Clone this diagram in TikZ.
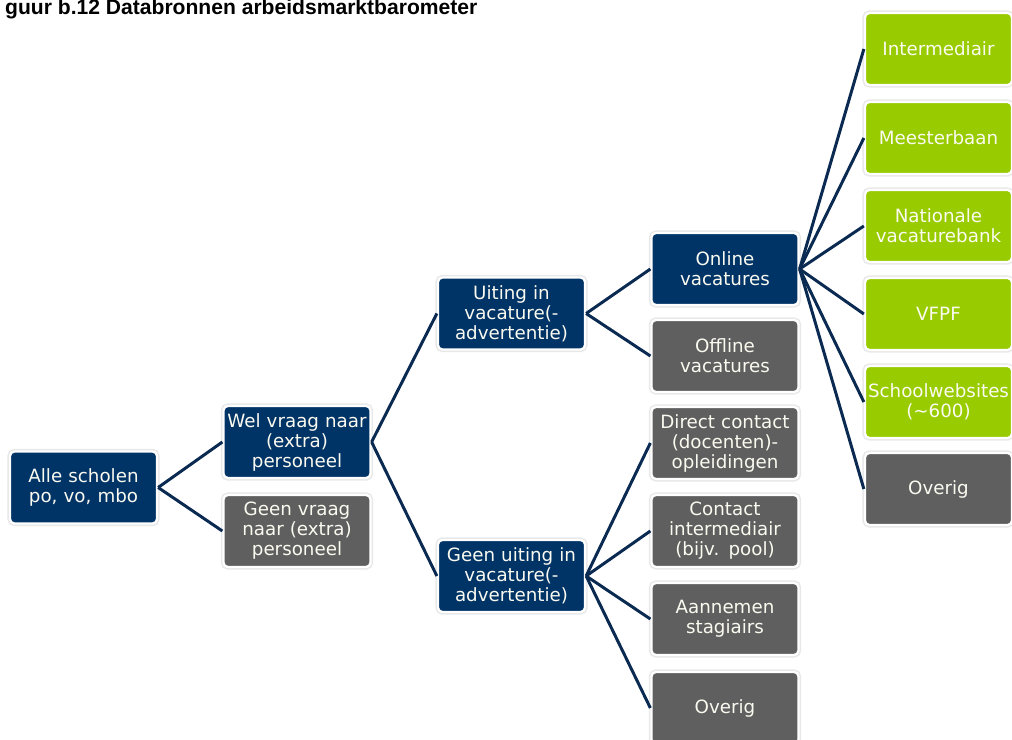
\documentclass[tikz,border=0pt]{standalone}
\usepackage{fontspec}
\setmainfont{DejaVu Sans}
\newfontfamily\titlefont{Liberation Sans}
\usepackage{xcolor}
\definecolor{barnavy}{RGB}{0,51,102}
\definecolor{bargrey}{RGB}{95,95,95}
\definecolor{bargreen}{RGB}{153,204,0}
\definecolor{barline}{RGB}{10,42,82}
\definecolor{bartext}{RGB}{250,250,240}

\begin{document}
\begin{tikzpicture}[x=0.02cm,y=-0.02cm]
  \tikzset{
    box/.style={rectangle,rounded corners=2.5pt,draw=white,line width=1.3pt,
      preaction={draw=black!9,line width=3pt},
      minimum width=2.94cm,minimum height=1.44cm,text width=2.86cm,inner xsep=0.04cm,
      align=center,text=bartext,font=\fontsize{10.4}{11.4}\selectfont},
    navybox/.style={box,fill=barnavy},
    greybox/.style={box,fill=bargrey},
    greenbox/.style={box,fill=bargreen},
    link/.style={barline,line width=1.7pt}
  }
  \useasboundingbox (0,0) rectangle (1012,740);
  \node[anchor=base west,font=\titlefont\fontsize{12}{14}\selectfont\bfseries] (title) at (-1,15) {guur b.12 Databronnen arbeidsmarktbarometer};

  % level 1 and 2
  \node[navybox] (alle) at (83.5,487.5) {Alle scholen\\po, vo, mbo};
  \node[navybox] (wel) at (297,442) {Wel vraag naar\\(extra)\\personeel};
  \node[greybox] (geen) at (297,531) {Geen vraag\\naar (extra)\\personeel};

  % level 3
  \node[navybox] (uiting) at (511.5,313.5) {Uiting in\\vacature(-\\advertentie)};
  \node[navybox] (geenuiting) at (511.5,576) {Geen uiting in\\vacature(-\\advertentie)};

  % level 4
  \node[navybox] (online) at (725,269) {Online\\vacatures};
  \node[greybox] (offline) at (725,356) {Offline\\vacatures};
  \node[greybox] (direct) at (725,443) {Direct contact\\(docenten)-\\opleidingen};
  \node[greybox] (contact) at (725,531) {Contact\\intermediair\\(bijv. pool)};
  \node[greybox] (stagiairs) at (725,619) {Aannemen\\stagiairs};
  \node[greybox] (overigb) at (725,708) {Overig};

  % level 5
  \node[greenbox] (intermediair) at (938.5,49) {Intermediair};
  \node[greenbox] (meesterbaan) at (938.5,138) {Meesterbaan};
  \node[greenbox] (nationale) at (938.5,226) {Nationale\\vacaturebank};
  \node[greenbox] (vfpf) at (938.5,314) {VFPF};
  \node[greenbox] (school) at (938.5,402) {Schoolwebsites\\(\textasciitilde600)};
  \node[greybox] (overigr) at (938.5,489) {Overig};

  % connectors
  \foreach \a/\b in {alle/wel,alle/geen,wel/uiting,wel/geenuiting,uiting/online,uiting/offline,
      geenuiting/direct,geenuiting/contact,geenuiting/stagiairs,geenuiting/overigb,
      online/intermediair,online/meesterbaan,online/nationale,online/vfpf,online/school,online/overigr}
    \draw[link] (\a.east) -- (\b.west);
\end{tikzpicture}
\end{document}
